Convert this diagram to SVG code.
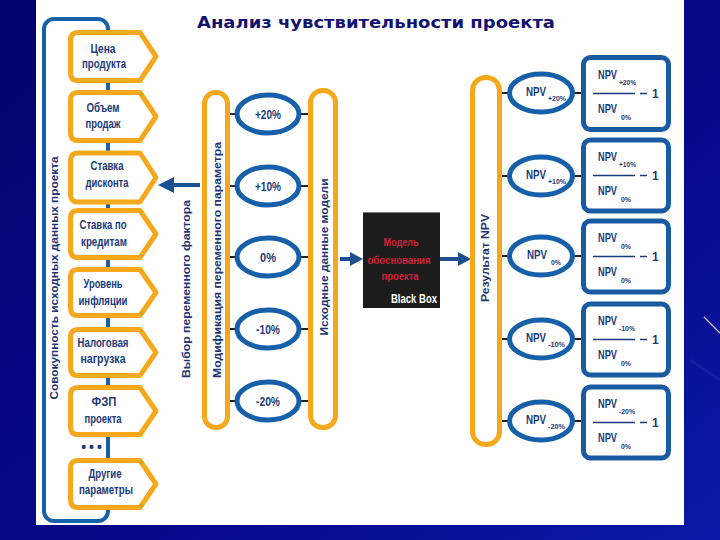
<svg xmlns="http://www.w3.org/2000/svg" width="720" height="540" viewBox="0 0 720 540">
<defs>
<linearGradient id="bg" x1="0" y1="0" x2="1" y2="1">
<stop offset="0" stop-color="#03036e"/>
<stop offset="0.6" stop-color="#06088a"/>
<stop offset="1" stop-color="#0a1aa6"/>
</linearGradient>
<style>
.ob{fill:#fff;stroke:#f6a81c;stroke-width:5;stroke-linejoin:round}
.bar{fill:#fff;stroke:#f6a81c;stroke-width:5}
.el{fill:#fff;stroke:#1560a8;stroke-width:5}
.fb{fill:#fff;stroke:#1a5aa2;stroke-width:5}
.t{font-family:"Liberation Sans Narrow","Liberation Sans",Arial,sans-serif;font-weight:bold;fill:#1b3a7a;text-anchor:middle}
.b12{font-size:12.5px}
.v{font-size:11px;fill:#1d3575}
.sub{font-size:7px;text-anchor:start}
.npv{font-size:12px;text-anchor:start}
.ln{stroke:#222;stroke-width:2}
.ar{stroke:#1a4f90;stroke-width:4;fill:none}
.ah{fill:#1a4f90}
.red{font-size:11.5px;fill:#d22038}
.fl{stroke:#1b3a7a;stroke-width:1.5}
</style>
</defs>
<rect x="0" y="0" width="720" height="540" fill="url(#bg)"/>
<line x1="704" y1="317" x2="720" y2="333" stroke="#e6c8f0" stroke-width="1.2"/>
<line x1="690" y1="360" x2="720" y2="380" stroke="#2a3ab8" stroke-width="3" opacity="0.35"/>
<rect x="36" y="0" width="648" height="525" fill="#fff"/>

<text x="376" y="28" font-family="Verdana,'DejaVu Sans',sans-serif" font-weight="bold" font-size="16" fill="#121272" text-anchor="middle" textLength="358" lengthAdjust="spacingAndGlyphs">Анализ чувствительности проекта</text>

<g id="connectors">
<rect x="44" y="19" width="64" height="502" rx="10" fill="none" stroke="#1560a8" stroke-width="4"/>
<text x="93" y="452" font-family="Liberation Sans,Arial,sans-serif" font-weight="bold" font-size="14" fill="#1b3a7a" text-anchor="middle" letter-spacing="3">•••</text>
<line class="ar" x1="200" y1="185" x2="172" y2="185"/>
<polygon class="ah" points="158,185 174,177 174,193"/>
<line class="ar" x1="340" y1="259" x2="352" y2="259"/>
<polygon class="ah" points="363,259 350,252 350,266"/>
<line class="ar" x1="440" y1="259" x2="460" y2="259"/>
<polygon class="ah" points="471,259 458,252 458,266"/>
<g class="ln">
<line x1="227" y1="114" x2="237" y2="114"/><line x1="299" y1="114" x2="311" y2="114"/>
<line x1="227" y1="186" x2="237" y2="186"/><line x1="299" y1="186" x2="311" y2="186"/>
<line x1="227" y1="257" x2="237" y2="257"/><line x1="299" y1="257" x2="311" y2="257"/>
<line x1="227" y1="329" x2="237" y2="329"/><line x1="299" y1="329" x2="311" y2="329"/>
<line x1="227" y1="401" x2="237" y2="401"/><line x1="299" y1="401" x2="311" y2="401"/>
<line x1="499" y1="93" x2="510" y2="93"/><line x1="572" y1="93" x2="583" y2="93"/>
<line x1="499" y1="176" x2="510" y2="176"/><line x1="572" y1="176" x2="583" y2="176"/>
<line x1="499" y1="256" x2="510" y2="256"/><line x1="572" y1="256" x2="583" y2="256"/>
<line x1="499" y1="339" x2="510" y2="339"/><line x1="572" y1="339" x2="583" y2="339"/>
<line x1="499" y1="421" x2="510" y2="421"/><line x1="572" y1="421" x2="583" y2="421"/>
</g>
</g>

<g id="label-all">
<text class="t v" transform="translate(58,278) rotate(-90)" textLength="243" lengthAdjust="spacingAndGlyphs">Совокупность исходных данных проекта</text>
</g>

<g id="p1"><path class="ob" d="M78,32.5 H140 L156,56.5 L140,80.5 H78 Q70.5,80.5 70.5,73 V40 Q70.5,32.5 78,32.5 Z"/>
<text class="t b12" x="103" y="53" textLength="25" lengthAdjust="spacingAndGlyphs">Цена</text>
<text class="t b12" x="104" y="68" textLength="44" lengthAdjust="spacingAndGlyphs">продукта</text></g>
<g id="p2"><path class="ob" d="M78,92.5 H140 L156,116.5 L140,140.5 H78 Q70.5,140.5 70.5,133 V100 Q70.5,92.5 78,92.5 Z"/>
<text class="t b12" x="103" y="112" textLength="33" lengthAdjust="spacingAndGlyphs">Объем</text>
<text class="t b12" x="103" y="128" textLength="35" lengthAdjust="spacingAndGlyphs">продаж</text></g>
<g id="p3"><path class="ob" d="M78,153 H140 L156,177.5 L140,202 H78 Q70.5,202 70.5,194.5 V160.5 Q70.5,153 78,153 Z"/>
<text class="t b12" x="107" y="170" textLength="33" lengthAdjust="spacingAndGlyphs">Ставка</text>
<text class="t b12" x="107" y="187" textLength="43" lengthAdjust="spacingAndGlyphs">дисконта</text></g>
<g id="p4"><path class="ob" d="M78,210.5 H140 L156,234 L140,257.5 H78 Q70.5,257.5 70.5,250 V218 Q70.5,210.5 78,210.5 Z"/>
<text class="t b12" x="103" y="229" textLength="47" lengthAdjust="spacingAndGlyphs">Ставка по</text>
<text class="t b12" x="104" y="246" textLength="46" lengthAdjust="spacingAndGlyphs">кредитам</text></g>
<g id="p5"><path class="ob" d="M78,269.5 H140 L156,292.5 L140,315.5 H78 Q70.5,315.5 70.5,308 V277 Q70.5,269.5 78,269.5 Z"/>
<text class="t b12" x="103" y="288" textLength="39" lengthAdjust="spacingAndGlyphs">Уровень</text>
<text class="t b12" x="103" y="305" textLength="49" lengthAdjust="spacingAndGlyphs">инфляции</text></g>
<g id="p6"><path class="ob" d="M78,329.5 H140 L156,352.5 L140,375.5 H78 Q70.5,375.5 70.5,368 V337 Q70.5,329.5 78,329.5 Z"/>
<text class="t b12" x="103" y="347" textLength="51" lengthAdjust="spacingAndGlyphs">Налоговая</text>
<text class="t b12" x="103" y="363" textLength="45" lengthAdjust="spacingAndGlyphs">нагрузка</text></g>
<g id="p7"><path class="ob" d="M78,387.5 H140 L156,411 L140,434.5 H78 Q70.5,434.5 70.5,427 V395 Q70.5,387.5 78,387.5 Z"/>
<text class="t b12" x="104" y="406" textLength="25" lengthAdjust="spacingAndGlyphs">ФЗП</text>
<text class="t b12" x="103" y="423" textLength="37" lengthAdjust="spacingAndGlyphs">проекта</text></g>
<g id="p8"><path class="ob" d="M78,460.5 H140 L156,484 L140,507.5 H78 Q70.5,507.5 70.5,500 V468 Q70.5,460.5 78,460.5 Z"/>
<text class="t b12" x="105" y="478" textLength="33" lengthAdjust="spacingAndGlyphs">Другие</text>
<text class="t b12" x="106" y="494" textLength="54" lengthAdjust="spacingAndGlyphs">параметры</text></g>

<g id="label-choice">
<text class="t v" transform="translate(190,289) rotate(-90)" textLength="178" lengthAdjust="spacingAndGlyphs">Выбор переменного фактора</text>
</g>

<g id="bar-mod"><rect class="bar" x="204.5" y="92.5" width="23" height="335" rx="11"/>
<text class="t v" transform="translate(221,260) rotate(-90)" textLength="236" lengthAdjust="spacingAndGlyphs">Модификация переменного параметра</text></g>

<g id="m20"><ellipse class="el" cx="268" cy="114" rx="31" ry="19"/><text class="t b12" x="268" y="119" textLength="26" lengthAdjust="spacingAndGlyphs">+20%</text></g>
<g id="m10"><ellipse class="el" cx="268" cy="186" rx="31" ry="19"/><text class="t b12" x="268" y="191" textLength="26" lengthAdjust="spacingAndGlyphs">+10%</text></g>
<g id="m0"><ellipse class="el" cx="268" cy="257" rx="31" ry="19"/><text class="t b12" x="268" y="262" textLength="16" lengthAdjust="spacingAndGlyphs">0%</text></g>
<g id="m-10"><ellipse class="el" cx="268" cy="329" rx="31" ry="19"/><text class="t b12" x="268" y="334" textLength="24" lengthAdjust="spacingAndGlyphs">-10%</text></g>
<g id="m-20"><ellipse class="el" cx="268" cy="401" rx="31" ry="19"/><text class="t b12" x="268" y="406" textLength="24" lengthAdjust="spacingAndGlyphs">-20%</text></g>

<g id="bar-input"><rect class="bar" x="310.5" y="90.5" width="25" height="337" rx="12"/>
<text class="t v" transform="translate(328,257) rotate(-90)" textLength="157" lengthAdjust="spacingAndGlyphs">Исходные данные модели</text></g>

<g id="blackbox"><rect x="363" y="212" width="77" height="96" fill="#1c1c1c"/>
<line x1="363" y1="212.5" x2="440" y2="212.5" stroke="#777" stroke-width="1"/>
<text class="t red" x="401" y="246" textLength="35" lengthAdjust="spacingAndGlyphs">Модель</text>
<text class="t red" x="399" y="264" textLength="63" lengthAdjust="spacingAndGlyphs">обоснования</text>
<text class="t red" x="400" y="280" textLength="37" lengthAdjust="spacingAndGlyphs">проекта</text>
<text class="t" x="414" y="303" font-size="13" style="fill:#fff" textLength="46" lengthAdjust="spacingAndGlyphs">Black Box</text></g>

<g id="bar-result"><rect class="bar" x="472.5" y="77.5" width="27" height="367" rx="13"/>
<text class="t v" transform="translate(489,258) rotate(-90)" textLength="88" lengthAdjust="spacingAndGlyphs">Результат NPV</text></g>

<g id="r20"><ellipse class="el" cx="541" cy="93" rx="31.5" ry="19"/>
<text class="t npv" x="526" y="96" textLength="20" lengthAdjust="spacingAndGlyphs">NPV</text><text class="t sub" x="548" y="101" textLength="18" lengthAdjust="spacingAndGlyphs">+20%</text></g>
<g id="r10"><ellipse class="el" cx="541" cy="176" rx="31.5" ry="19"/>
<text class="t npv" x="526" y="179" textLength="20" lengthAdjust="spacingAndGlyphs">NPV</text><text class="t sub" x="548" y="184" textLength="18" lengthAdjust="spacingAndGlyphs">+10%</text></g>
<g id="r0"><ellipse class="el" cx="541" cy="256" rx="31.5" ry="19"/>
<text class="t npv" x="527" y="259" textLength="20" lengthAdjust="spacingAndGlyphs">NPV</text><text class="t sub" x="551" y="265" textLength="10" lengthAdjust="spacingAndGlyphs">0%</text></g>
<g id="r-10"><ellipse class="el" cx="541" cy="339" rx="31.5" ry="19"/>
<text class="t npv" x="526" y="342" textLength="20" lengthAdjust="spacingAndGlyphs">NPV</text><text class="t sub" x="548" y="347" textLength="17" lengthAdjust="spacingAndGlyphs">-10%</text></g>
<g id="r-20"><ellipse class="el" cx="541" cy="421" rx="31.5" ry="19"/>
<text class="t npv" x="526" y="424" textLength="20" lengthAdjust="spacingAndGlyphs">NPV</text><text class="t sub" x="548" y="429" textLength="17" lengthAdjust="spacingAndGlyphs">-20%</text></g>

<g id="f20"><rect class="fb" x="583.5" y="57.5" width="85" height="72" rx="7"/>
<text class="t npv" x="598" y="79" textLength="19" lengthAdjust="spacingAndGlyphs">NPV</text><text class="t sub" x="619" y="85" textLength="17" lengthAdjust="spacingAndGlyphs">+20%</text>
<line class="fl" x1="593" y1="93.5" x2="635" y2="93.5"/><line class="fl" x1="640" y1="93.5" x2="647" y2="93.5"/>
<text class="t npv" x="652" y="98">1</text>
<text class="t npv" x="598" y="113" textLength="19" lengthAdjust="spacingAndGlyphs">NPV</text><text class="t sub" x="621" y="120" textLength="10" lengthAdjust="spacingAndGlyphs">0%</text></g>
<g id="f10"><rect class="fb" x="583.5" y="140" width="85" height="71" rx="7"/>
<text class="t npv" x="598" y="161" textLength="19" lengthAdjust="spacingAndGlyphs">NPV</text><text class="t sub" x="619" y="167" textLength="17" lengthAdjust="spacingAndGlyphs">+10%</text>
<line class="fl" x1="593" y1="175.5" x2="635" y2="175.5"/><line class="fl" x1="640" y1="175.5" x2="647" y2="175.5"/>
<text class="t npv" x="652" y="180">1</text>
<text class="t npv" x="598" y="195" textLength="19" lengthAdjust="spacingAndGlyphs">NPV</text><text class="t sub" x="621" y="202" textLength="10" lengthAdjust="spacingAndGlyphs">0%</text></g>
<g id="f0"><rect class="fb" x="583.5" y="221" width="85" height="71" rx="7"/>
<text class="t npv" x="598" y="242" textLength="19" lengthAdjust="spacingAndGlyphs">NPV</text><text class="t sub" x="621" y="249" textLength="10" lengthAdjust="spacingAndGlyphs">0%</text>
<line class="fl" x1="593" y1="256.5" x2="635" y2="256.5"/><line class="fl" x1="640" y1="256.5" x2="647" y2="256.5"/>
<text class="t npv" x="652" y="261">1</text>
<text class="t npv" x="598" y="276" textLength="19" lengthAdjust="spacingAndGlyphs">NPV</text><text class="t sub" x="621" y="283" textLength="10" lengthAdjust="spacingAndGlyphs">0%</text></g>
<g id="f-10"><rect class="fb" x="583.5" y="304" width="85" height="71" rx="7"/>
<text class="t npv" x="598" y="325" textLength="19" lengthAdjust="spacingAndGlyphs">NPV</text><text class="t sub" x="619" y="331" textLength="16" lengthAdjust="spacingAndGlyphs">-10%</text>
<line class="fl" x1="593" y1="339.5" x2="635" y2="339.5"/><line class="fl" x1="640" y1="339.5" x2="647" y2="339.5"/>
<text class="t npv" x="652" y="344">1</text>
<text class="t npv" x="598" y="359" textLength="19" lengthAdjust="spacingAndGlyphs">NPV</text><text class="t sub" x="621" y="366" textLength="10" lengthAdjust="spacingAndGlyphs">0%</text></g>
<g id="f-20"><rect class="fb" x="583.5" y="387" width="85" height="71" rx="7"/>
<text class="t npv" x="598" y="408" textLength="19" lengthAdjust="spacingAndGlyphs">NPV</text><text class="t sub" x="619" y="414" textLength="16" lengthAdjust="spacingAndGlyphs">-20%</text>
<line class="fl" x1="593" y1="422.5" x2="635" y2="422.5"/><line class="fl" x1="640" y1="422.5" x2="647" y2="422.5"/>
<text class="t npv" x="652" y="427">1</text>
<text class="t npv" x="598" y="442" textLength="19" lengthAdjust="spacingAndGlyphs">NPV</text><text class="t sub" x="621" y="449" textLength="10" lengthAdjust="spacingAndGlyphs">0%</text></g>
</svg>
